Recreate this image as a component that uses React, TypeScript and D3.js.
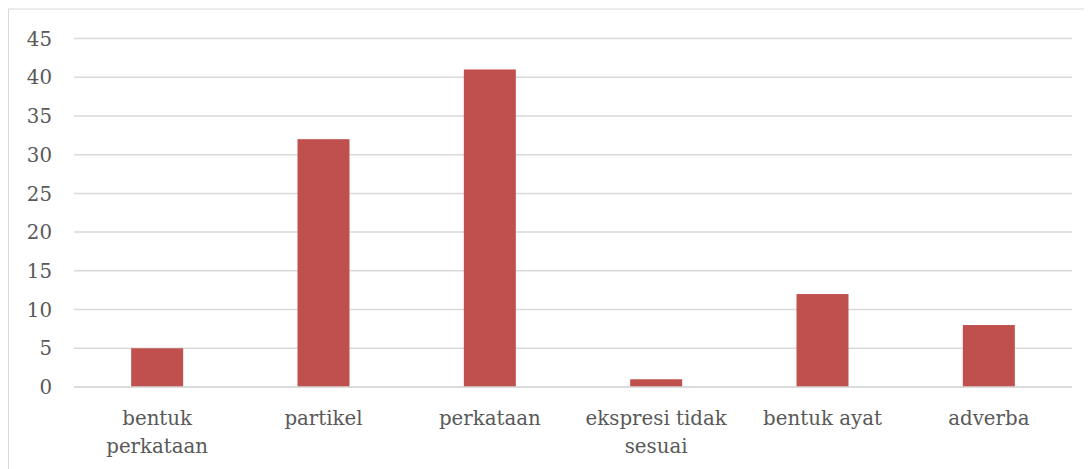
import React from "react";
import * as d3 from "d3";

const categories = ["bentuk perkataan", "partikel", "perkataan", "ekspresi tidak sesuai", "bentuk ayat", "adverba"];
const values = [5, 32, 41, 1, 12, 8];
const yTicks = [0, 5, 10, 15, 20, 25, 30, 35, 40, 45];

const W = 1084;
const H = 461;
const left = 66;
const right = 1064;
const top = 30.5;
const bottom = 379;

function wrap(label: string, maxChars = 14): string[] {
  const words = label.split(" ");
  const lines: string[] = [];
  let cur = "";
  for (const w of words) {
    const next = cur ? cur + " " + w : w;
    if (next.length > maxChars && cur) {
      lines.push(cur);
      cur = w;
    } else cur = next;
  }
  if (cur) lines.push(cur);
  return lines;
}

export default function App() {
  const x = d3.scaleBand<string>().domain(categories).range([left, right]).paddingInner(0.6875).paddingOuter(0.34375);
  const y = d3.scaleLinear().domain([0, 45]).range([bottom, top]);
  const font = "'DejaVu Serif', serif";
  return (
    <svg width={W} height={H} style={{ display: "block" }}>
      <rect x={0.5} y={1} width={W + 20} height={H + 20} fill="#fff" stroke="#d9d9d9" strokeWidth={1} />
      {yTicks.map((t) => (
        <g key={t}>
          <line x1={left} x2={right} y1={y(t)} y2={y(t)} stroke="#d9d9d9" strokeWidth={1.5} />
          <text x={44} y={y(t)} dy="0.36em" textAnchor="end" fontFamily={font} fontSize={19.8} fill="#595959">
            {t}
          </text>
        </g>
      ))}
      {categories.map((c, i) => (
        <rect key={c} x={x(c)} y={y(values[i])} width={x.bandwidth()} height={y(0) - y(values[i])} fill="#C0504D" />
      ))}
      <line x1={left} x2={right} y1={y(0)} y2={y(0)} stroke="#d9d9d9" strokeWidth={1.5} />
      {categories.map((c) => (
        <text key={c} textAnchor="middle" fontFamily={font} fontSize={19.8} fill="#595959">
          {wrap(c).map((ln, j) => (
            <tspan key={j} x={(x(c) as number) + x.bandwidth() / 2} y={417 + j * 28}>
              {ln}
            </tspan>
          ))}
        </text>
      ))}
    </svg>
  );
}
